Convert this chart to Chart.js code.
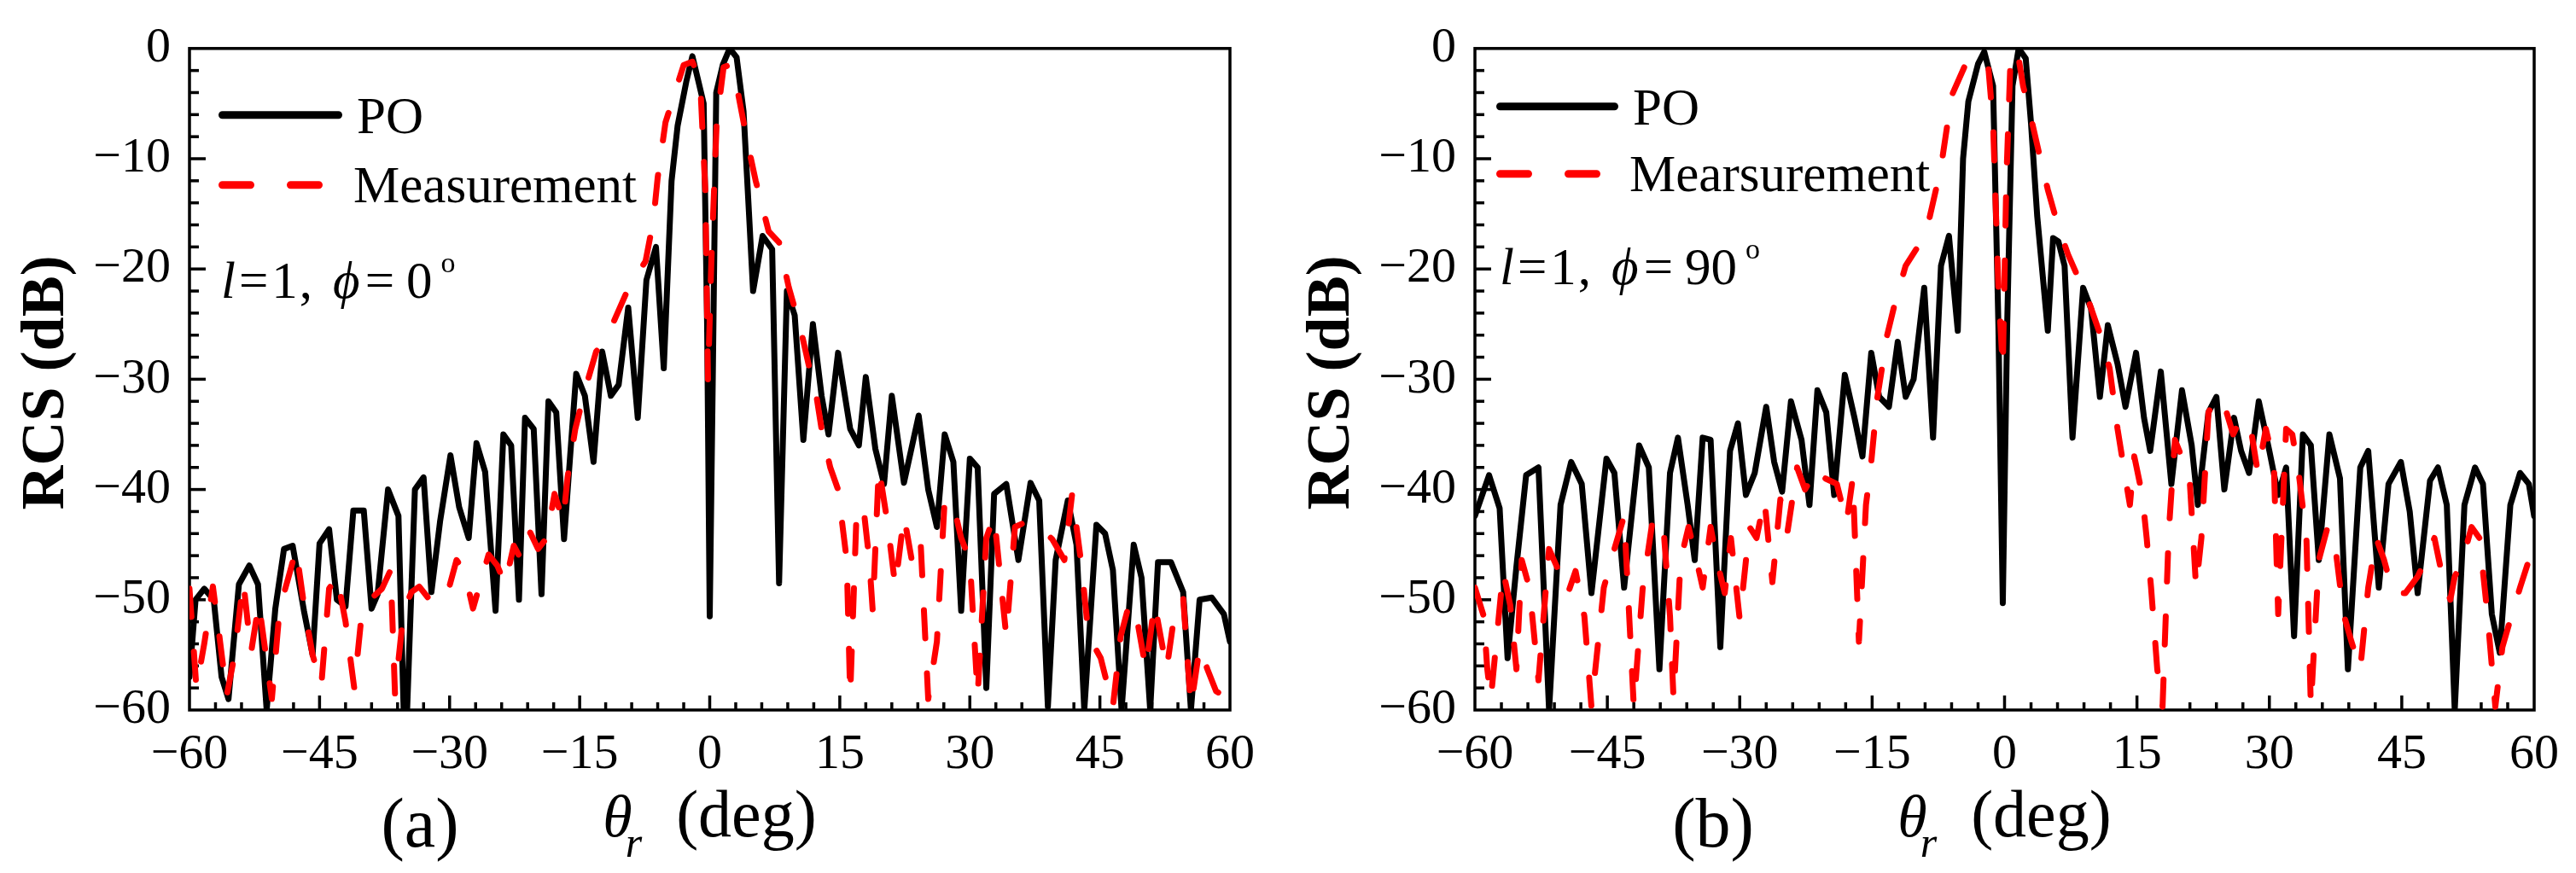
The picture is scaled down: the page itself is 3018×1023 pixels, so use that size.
<!DOCTYPE html>
<html><head><meta charset="utf-8">
<script src="https://cdn.jsdelivr.net/npm/chart.js@4.4.1/dist/chart.umd.min.js"></script>
<style>
html,body{margin:0;padding:0;background:#fff;width:3018px;height:1023px;overflow:hidden}
canvas{position:absolute;top:0}
#ca{left:0}
#cb{left:1509px}
</style></head><body>
<canvas id="ca" width="1509" height="1023"></canvas>
<canvas id="cb" width="1509" height="1023"></canvas>
<script>
// ---------- tick labels ----------
const xTickValues = [-60, -45, -30, -15, 0, 15, 30, 45, 60];
const xTickLabels = ['\u221260', '\u221245', '\u221230', '\u221215', '0', '15', '30', '45', '60'];
const yTickValues = [-60, -50, -40, -30, -20, -10, 0];
const yTickLabels = ['\u221260', '\u221250', '\u221240', '\u221230', '\u221220', '\u221210', '0'];
const xMinorStep = 3;
const yMinorStep = 2;

// ---------- (a) phi = 0 deg ----------
const poA_theta = [-60,-59.3,-58.3,-57.2,-56.3,-55.5,-54.3,-53.1,-52.1,-51.1,
  -50.1,-49.1,-48.1,-46.8,-45.8,-45,-43.9,-43,-42,-41.1,
  -39.9,-39,-38.3,-37.1,-35.9,-35.3,-34.9,-34,-33,-32.1,
  -31.1,-29.9,-28.9,-27.8,-26.9,-25.9,-24.7,-23.8,-22.9,-22,
  -21.3,-20.3,-19.4,-18.6,-17.7,-16.8,-15.4,-14.4,-13.4,-12.4,
  -11.4,-10.5,-9.4,-8.3,-7.3,-6.2,-5.3,-4.4,-3.7,-2.7,
  -2,-1.3,-0.7,-0.3,0,0.35,0.75,1.5,2.3,3.1,
  3.9,4.6,5,6.1,7.2,8,8.9,9.8,10.8,11.9,
  12.9,13.7,14.8,16.2,17.2,18,19.1,20.1,21,22.4,
  24.1,25.2,26.2,27.1,28.1,29,30,30.9,31.9,32.8,
  34.2,35.6,37,38,39,39.9,41.3,42.3,43.2,44.6,
  45.6,46.5,47.5,48.9,49.8,50.8,51.7,53.2,54.6,55.5,
  56.5,57.9,59.3,60];
const poA_rcs = [-57,-50,-49,-50,-57,-59,-48.6,-46.9,-48.6,-60,
  -50.8,-45.4,-45.1,-51,-55,-44.9,-43.6,-50,-50.6,-41.9,
  -41.9,-50.8,-49.5,-40,-42.4,-60,-60,-40,-38.9,-49.3,
  -42.9,-36.9,-41.6,-44.4,-35.8,-38.4,-51,-35,-36,-50,
  -33.5,-34.5,-49.5,-32,-33,-44.5,-29.5,-31.5,-37.5,-27.5,
  -31.5,-30.5,-23.5,-33.5,-21,-18,-29,-12,-7,-3,
  -0.7,-3,-5,-25,-51.5,-30,-4,-1.5,0,-0.8,
  -5.7,-16,-22,-17,-18.2,-48.5,-22,-24.2,-35.5,-25,
  -31.5,-35,-27.6,-34.5,-36,-29.8,-36.3,-39.5,-31.5,-39.4,
  -33.3,-40,-43.4,-35,-37.5,-51,-37.2,-38,-58,-40.4,
  -39.5,-46.4,-39.4,-41,-59.7,-46.4,-41,-45,-60,-43.2,
  -44,-47.3,-60,-45,-48,-60,-46.6,-46.6,-49.3,-60,
  -50,-49.8,-51.3,-53.8];
const measA_theta = [-60,-59.2,-58.3,-57.3,-56.6,-55.7,-54.8,-53.8,-52.9,-52,
  -50.5,-49.6,-48.6,-47.7,-46.7,-45.8,-44.8,-43.9,-43,-42,
  -41,-40.1,-39.2,-37.8,-36.8,-36.3,-35.3,-34.4,-33.5,-32.5,
  -31.6,-30.2,-29.2,-28.3,-27.3,-26.4,-25.5,-24.5,-23.6,-22.6,
  -21.7,-20.7,-19.8,-18.8,-17.9,-16.9,-16.4,-15.5,-14.4,-13.1,
  -12.2,-11.2,-9.3,-7.4,-6.5,-6,-5.1,-4.1,-3,-2,
  -1.1,-0.5,-0.2,0.2,0.8,1.6,2.3,3.3,4.4,5.3,
  6.8,8,9.1,10.5,11.5,12.3,12.9,13.9,14.8,15.8,
  16.2,16.9,17.7,18.4,18.8,19.5,20.5,21.4,22.4,23.3,
  24.3,25.2,26.2,27.1,28.1,29,30,30.9,31.9,32.8,
  34.2,35.2,36.6,38,39.5,40.9,41.8,42.8,43.7,45.1,
  46.5,47.4,48.4,49.4,50.3,51.3,52.7,53.6,54.6,55.5,
  56.5,57.4,58.4,59.3,60];
const measA_rcs = [-49,-58,-54,-48.8,-53,-58.7,-55,-48.3,-54.8,-50.3,
  -59,-50.8,-48,-45.4,-51,-55,-57.8,-49,-47.8,-52,
  -58,-51,-50,-49,-47.3,-58.5,-51,-49.3,-48.8,-49.8,
  -48.8,-49.3,-46.4,-47.4,-50.8,-48.3,-45.9,-46.9,-48.6,-45.1,
  -46.4,-43.9,-45.4,-44.4,-40.4,-42.9,-38.9,-34.5,-31,-27.5,
  -26.5,-25,-21.6,-19.3,-15.6,-11.7,-6.7,-4.2,-1.5,-1.2,
  -3,-13,-30,-19,-6.7,-1.7,-1.5,-4.2,-8.7,-12,
  -16.6,-17.6,-21.6,-25.5,-29,-31.5,-34.5,-38,-40,-46.4,
  -58.7,-42.9,-41.4,-46.4,-51,-38,-43,-48.8,-42.4,-46.4,
  -44.4,-59,-53.8,-40.9,-41.4,-44.4,-46.4,-58.7,-44.4,-42.4,
  -53.3,-43.4,-42.9,-43.4,-44.5,-46.4,-40.4,-46.4,-53.3,-55.3,
  -59.7,-53.3,-50.3,-52.3,-56.3,-50.3,-56.3,-51.3,-49.8,-59.7,
  -54.3,-56.3,-58.3,-58.7,-56.3];

// ---------- (b) phi = 90 deg ----------
const poB_theta = [-60,-58.4,-57.2,-56.3,-55.3,-54.2,-52.8,-51.6,-50.3,-49.1,
  -47.9,-46.8,-45.1,-44.2,-43.1,-41.4,-40.3,-39.1,-37.9,-37,
  -35.9,-35.1,-34.2,-33.3,-32.2,-31.1,-30.2,-29.3,-28.3,-27,
  -26.1,-25.2,-24.2,-23,-22.1,-21.2,-20.2,-19.3,-18.1,-17,
  -16.1,-15.1,-14.2,-13.1,-12.1,-11.2,-10.3,-9.1,-8.1,-7.2,
  -6.3,-5.3,-4.7,-4.1,-3,-2.3,-1.3,-0.7,-0.2,0.3,
  0.9,1.6,2.4,3,3.7,4.9,5.5,6.1,6.8,7.7,
  8.9,9.8,10.8,11.7,12.8,13.7,14.9,15.8,16.5,17.7,
  18.9,20.1,21.2,21.9,23.1,24,24.9,26,26.8,27.7,
  28.8,30,31,31.9,32.8,33.8,34.7,35.6,36.8,38,
  38.9,40.3,41.2,42.4,43.5,44.9,45.9,46.8,48.2,49.1,
  50.1,51,52.1,53.3,54.2,55.2,56.1,57.3,58.4,59.4,
  60];
const poB_rcs = [-42.4,-38.7,-41.7,-55.3,-47,-38.7,-38,-60,-41.4,-37.5,
  -39.5,-49.4,-37.2,-38.5,-48.9,-36,-38,-56.3,-38.5,-35.3,
  -41.4,-46.4,-35.3,-35.5,-54.3,-36.5,-34,-40.5,-38.5,-32.5,
  -37.5,-40.2,-32,-35.5,-41.4,-31,-33,-40.5,-29.6,-33.5,
  -37,-27.6,-31.6,-32.5,-26.6,-31.6,-30,-21.7,-35.3,-19.7,
  -17,-25.6,-10,-4.8,-1.4,-0.3,-3.4,-25,-50.3,-25,
  -3.4,0,-0.9,-6.8,-15.2,-25.6,-17.2,-17.5,-19.7,-35.3,
  -21.7,-23.6,-31.6,-25.1,-28.6,-32.5,-27.6,-33.5,-36.5,-29.3,
  -39.5,-31,-36,-41.4,-33,-31.6,-40,-33.5,-36.5,-38.5,
  -32,-36.5,-40.5,-38,-53.3,-35,-36,-46.4,-35,-39,
  -56.3,-38,-36.5,-48.9,-39.5,-37.5,-42,-49.4,-39.2,-38,
  -41.4,-60,-41.4,-38,-39.5,-51.3,-54.8,-41.4,-38.5,-39.5,
  -42.4];
const measB_theta = [-60,-59,-58.6,-58.2,-56.8,-56,-55.3,-54.7,-53.8,-52.8,
  -51.6,-50.5,-49.5,-48.6,-47.6,-46.8,-45.4,-44.2,-43.1,-42,
  -41,-39.8,-38.6,-37.9,-37.5,-36.7,-35.8,-34.9,-34.2,-33.3,
  -32.6,-31.7,-31,-30,-28.9,-28.1,-27.2,-26.3,-25.4,-24.6,
  -23.5,-22.6,-21.2,-20.3,-19,-17.9,-17.2,-16.5,-15.7,-15.1,
  -14.4,-13.3,-12.3,-11.2,-10,-8.6,-7.2,-6,-4.4,-2.8,
  -1.9,-1.3,-0.7,-0.2,0.2,0.7,1.5,2.1,3,4,
  4.9,6.1,7.2,8.3,9.6,10.9,11.9,12.8,13.7,14.2,
  14.7,15.6,16.1,16.6,17.3,17.9,18.6,19.3,20.3,21,
  21.7,22.3,23.1,24,25,25.9,26.8,27.9,28.7,29.6,
  30.5,31,31.9,32.6,33.4,34.2,34.7,35.6,36.6,37.5,
  38.4,39.3,40.3,41.2,42.1,43,44,45.4,46.8,47.7,
  48.7,49.6,50.5,51,51.9,52.9,53.8,54.7,55.6,56.4,
  57.3,58.4,59.4,60];
const measB_rcs = [-48.9,-51.5,-56.3,-59,-47.4,-50.5,-56.3,-46.4,-49,-57.3,
  -45.4,-47.4,-49.5,-47.4,-51.5,-59.7,-48.9,-45.4,-42.4,-59.7,
  -49,-42.4,-43.9,-51.5,-59,-46.4,-43.4,-46.4,-48.9,-43.4,
  -46.4,-49.4,-44.4,-51.8,-43.4,-44.4,-40.9,-48.4,-40.9,-43.9,
  -38,-40,-38,-39,-39.5,-43,-39,-53.8,-41.4,-37.5,
  -31.6,-26,-22.7,-19.7,-18.2,-15.7,-10.8,-4.3,-1.4,-1.1,
  -1.1,-6.8,-21.7,-29,-12,-0.4,-0.4,-3.4,-6.3,-9.8,
  -12.8,-16.2,-18.7,-20.7,-23.1,-26.1,-29,-34.5,-39,-41.4,
  -37,-40.5,-44.4,-48.9,-56.3,-59.7,-43.9,-35.5,-37.5,-39.5,
  -48.9,-44.4,-33,-31.6,-32.6,-35,-33.5,-34.5,-38.5,-34.5,
  -37.5,-51.3,-34.5,-35,-39,-44.4,-59.7,-46.4,-43.4,-45.4,
  -51.3,-53.8,-56.3,-48.9,-44.4,-46.4,-49.4,-49.4,-47.9,-46.4,
  -44.4,-47.9,-50,-47.9,-46.4,-43.4,-44.4,-51.3,-59.7,-54.3,
  -51.8,-48.9,-46.4,-45.4];

const SERIF = "'Liberation Serif', 'Times New Roman', 'DejaVu Serif', serif";
Chart.defaults.font.family = SERIF;
Chart.defaults.color = '#000';
const pts = (t, r) => t.map((v, i) => ({x: v, y: r[i]}));

function drawRuns(ctx, parts, x, y) {
  for (const p of parts) {
    ctx.font = p.font;
    x += (p.dx || 0);
    ctx.fillText(p.t, x, y + (p.dy || 0));
    x += ctx.measureText(p.t).width;
  }
  return x;
}
function runsWidth(ctx, parts) {
  let w = 0;
  for (const p of parts) { ctx.font = p.font; w += (p.dx || 0) + ctx.measureText(p.t).width; }
  return w;
}

const decorPlugin = {
  id: 'decor',
  beforeDatasetsDraw(chart, args, o) {
    const {ctx, chartArea: ca, scales: {x, y}} = chart;
    ctx.save();
    ctx.strokeStyle = '#000';
    ctx.lineWidth = 3.5;
    ctx.lineCap = 'butt';
    for (let v = x.min + xMinorStep; v < x.max - 1e-6; v += xMinorStep) {
      const px = x.getPixelForValue(v);
      const major = xTickValues.some(t => Math.abs(t - v) < 1e-6);
      ctx.beginPath(); ctx.moveTo(px, ca.bottom); ctx.lineTo(px, ca.bottom - (major ? 17 : 9)); ctx.stroke();
    }
    for (let v = y.min + yMinorStep; v < y.max - 1e-6; v += yMinorStep) {
      const py = y.getPixelForValue(v);
      const major = yTickValues.some(t => Math.abs(t - v) < 1e-6);
      ctx.beginPath(); ctx.moveTo(ca.left, py); ctx.lineTo(ca.left + (major ? 19 : 11), py); ctx.stroke();
    }
    ctx.strokeRect(ca.left, ca.top, ca.right - ca.left, ca.bottom - ca.top);
    ctx.restore();
  },
  afterDraw(chart, args, o) {
    const {ctx, chartArea: ca} = chart;
    const ds = chart.data.datasets;
    ctx.save();
    ctx.fillStyle = '#000';
    ctx.textAlign = 'left';
    ctx.textBaseline = 'alphabetic';
    // legend
    const lx0 = ca.left + o.legX, lx1 = ca.left + o.legX + o.legLen;
    ctx.lineWidth = 9; ctx.lineCap = 'round';
    ctx.strokeStyle = ds[0].borderColor; ctx.setLineDash([]);
    ctx.beginPath(); ctx.moveTo(lx0 + 4.5, ca.top + o.legY1); ctx.lineTo(lx1 - 4.5, ca.top + o.legY1); ctx.stroke();
    ctx.strokeStyle = ds[1].borderColor; ctx.setLineDash([33, 47]);
    ctx.beginPath(); ctx.moveTo(lx0 + 4.5, ca.top + o.legY2); ctx.lineTo(lx1 - 4.5, ca.top + o.legY2); ctx.stroke();
    ctx.setLineDash([]);
    ctx.font = '61px ' + SERIF;
    ctx.fillText(ds[0].label, lx1 + 17, ca.top + o.legY1 + 21);
    ctx.fillText(ds[1].label, lx1 + 13, ca.top + o.legY2 + 20);
    // annotation  l=1, phi=...
    const f = '61px ' + SERIF, fi = 'italic 61px ' + SERIF;
    drawRuns(ctx, [
      {t: 'l', font: fi},
      {t: '=', font: f, dx: 4},
      {t: '1', font: f, dx: 4},
      {t: ',', font: f, dx: 2},
      {t: '\u03D5', font: fi, dx: 24},
      {t: '=', font: f, dx: 6},
      {t: o.phi, font: f, dx: 14},
      {t: 'o', font: '34px ' + SERIF, dx: 10, dy: -30}
    ], ca.left + o.annX, ca.top + o.annY);
    // panel label
    ctx.font = '82px ' + SERIF;
    ctx.textAlign = 'center';
    ctx.fillText(o.panel, ca.left + o.panelX, 992);
    // x title
    ctx.textAlign = 'left';
    const xt = [
      {t: '\u03B8', font: 'italic 70px ' + SERIF},
      {t: 'r', font: 'italic 50px ' + SERIF, dx: -8, dy: 24},
      {t: '(deg)', font: '78px ' + SERIF, dx: 40}
    ];
    const cx = (ca.left + ca.right) / 2;
    drawRuns(ctx, xt, cx - runsWidth(ctx, xt) / 2, 980);
    // y title
    ctx.translate(ca.left - 148, (ca.top + ca.bottom) / 2 + 4);
    ctx.rotate(-Math.PI / 2);
    ctx.textAlign = 'center';
    ctx.font = 'bold 72px ' + SERIF;
    ctx.fillText('RCS (dB)', 0, 0);
    ctx.restore();
  }
};

function makeChart(id, cfg) {
  return new Chart(document.getElementById(id), {
    type: 'line',
    data: {datasets: [
      {label: 'PO', data: pts(cfg.poT, cfg.poR), borderColor: '#000000', borderWidth: 7,
       pointRadius: 0, tension: 0, borderJoinStyle: 'round', borderCapStyle: 'round', order: 1},
      {label: cfg.measLabel, data: pts(cfg.mT, cfg.mR), borderColor: '#ff0000', borderWidth: 7,
       borderDash: [33, 41], borderCapStyle: 'round', borderJoinStyle: 'round', pointRadius: 0, tension: 0, order: 0}
    ]},
    options: {
      responsive: false, animation: false, devicePixelRatio: 1,
      layout: {padding: {top: cfg.top, right: cfg.right, left: 0, bottom: 0}},
      plugins: {legend: {display: false}, tooltip: {enabled: false}, decor: cfg.decor},
      scales: {
        x: {type: 'linear', min: -60, max: 60,
            afterFit: s => { s.height = 191; },
            grid: {display: false, drawTicks: false}, border: {display: false},
            ticks: {stepSize: 15, autoSkip: false, maxRotation: 0, padding: 18, color: '#000',
                    font: {family: SERIF, size: 58, weight: 'normal'}, callback: (v, i) => xTickLabels[i]}},
        y: {type: 'linear', min: -60, max: 0,
            afterFit: s => { s.width = cfg.yw; },
            grid: {display: false, drawTicks: false}, border: {display: false},
            ticks: {stepSize: 10, autoSkip: false, padding: 22, color: '#000',
                    font: {family: SERIF, size: 58, weight: 'normal'}, callback: (v, i) => yTickLabels[i]}}
      }
    },
    plugins: [decorPlugin]
  });
}

makeChart('ca', {
  poT: poA_theta, poR: poA_rcs, mT: measA_theta, mR: measA_rcs, measLabel: 'Measurement',
  top: 43, right: 68, yw: 222,
  decor: {legX: 34, legLen: 145, legY1: 78, legY2: 160, annX: 37, annY: 292, phi: '0', panel: '(a)', panelX: 270}
});
makeChart('cb', {
  poT: poB_theta, poR: poB_rcs, mT: measB_theta, mR: measB_rcs, measLabel: 'Mearsurement',
  top: 42, right: 49, yw: 219,
  decor: {legX: 25, legLen: 143, legY1: 68, legY2: 147, annX: 29, annY: 276, phi: '90', panel: '(b)', panelX: 279}
});
</script>
</body></html>
